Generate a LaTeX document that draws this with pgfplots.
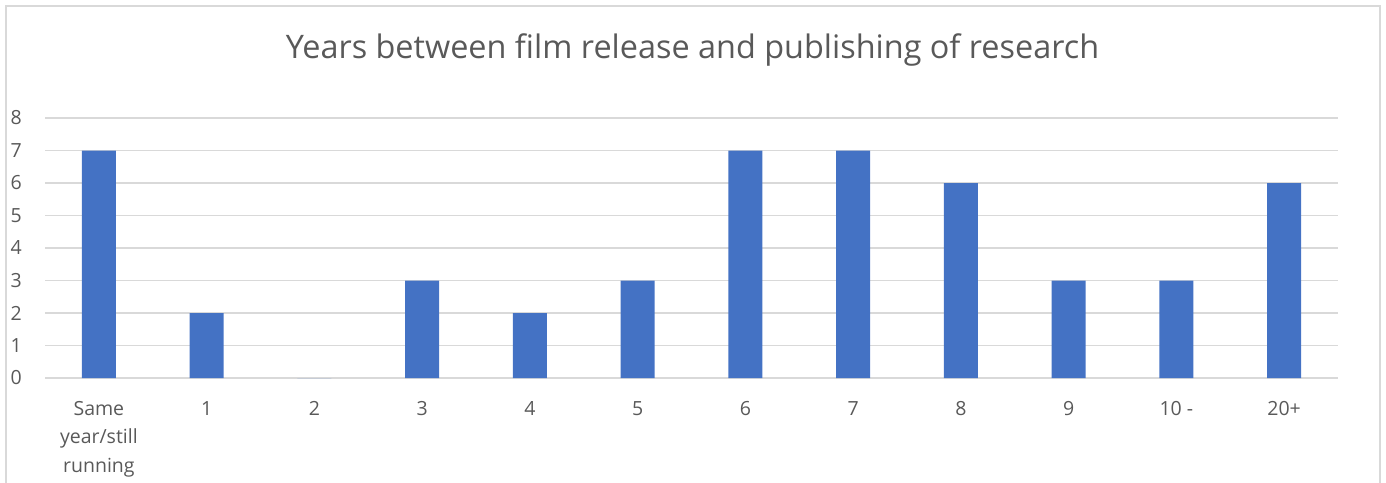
\documentclass[border=0pt]{standalone}
\usepackage{pgfplots}
\pgfplotsset{compat=1.18}
\usepackage{fontspec}
\setmainfont{Open Sans}
\definecolor{barblue}{HTML}{4472C4}
\definecolor{gridgray}{HTML}{D9D9D9}
\definecolor{textgray}{HTML}{595959}
\begin{document}
\begin{tikzpicture}[x=1pt,y=1pt]
\path[use as bounding box] (0,0) rectangle (1386,482);
\draw[gridgray, line width=1.5pt] (6,-10) -- (6,476) -- (1380,476) -- (1380,-10);
\node[textgray, font=\fontsize{32.4}{38}\selectfont, anchor=base, inner sep=0pt] at (692.5,423) {Years between film release and publishing of research};
\begin{axis}[
  at={(45pt,104pt)}, anchor=south west,
  scale only axis, width=1293pt, height=260pt,
  ybar, bar width=34pt,
  xmin=-0.5, xmax=11.5, ymin=0, ymax=8,
  ytick={0,1,...,8},
  xtick={0,1,...,11},
  xticklabels={{Same\\year/still\\running},1,2,3,4,5,6,7,8,9,10 -,20+},
  axis line style={draw=none},
  major tick length=0pt,
  ymajorgrids, grid style={gridgray, line width=1.7pt},
  tick label style={textgray, font=\fontsize{19.5}{28.5}\selectfont, inner sep=0pt},
  /pgf/number format/assume math mode=true,
  yticklabel style={anchor=east},
  yticklabel shift=23pt,
  xticklabel style={anchor=north, align=center},
  xticklabel shift=23pt,
]
\addplot[draw=none, fill=barblue] coordinates {(0,7) (1,2) (2,0) (3,3) (4,2) (5,3) (6,7) (7,7) (8,6) (9,3) (10,3) (11,6)};
\end{axis}
\end{tikzpicture}
\end{document}
